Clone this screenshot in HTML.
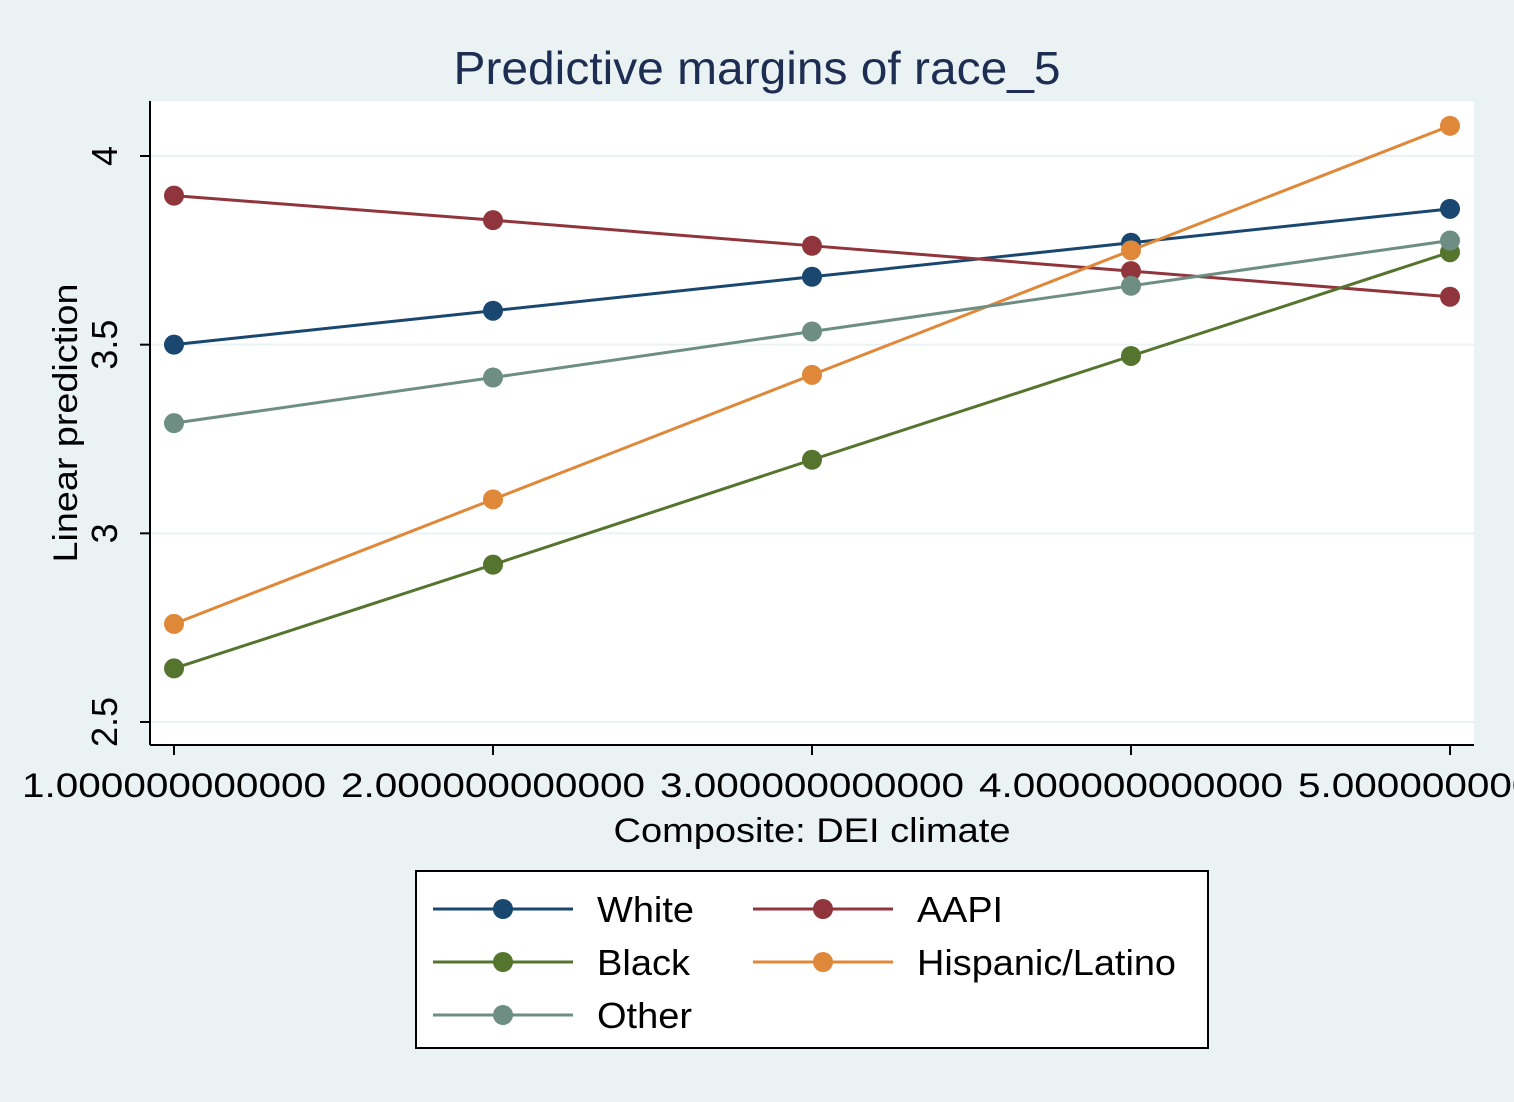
<!DOCTYPE html>
<html><head><meta charset="utf-8">
<style>
html,body{margin:0;padding:0;background:#eaf2f3;}
svg{display:block;font-family:"Liberation Sans",Arial,sans-serif;}
</style></head>
<body>
<svg id="chart" width="1514" height="1102" viewBox="0 0 1514 1102" xmlns="http://www.w3.org/2000/svg">
<rect x="0" y="0" width="1514" height="1102" fill="#eaf2f3"/>
<text x="757" y="84" text-anchor="middle" font-size="46" textLength="607" lengthAdjust="spacingAndGlyphs" fill="#1e2d52">Predictive margins of race_5</text>
<rect x="150" y="101" width="1324" height="644" fill="#ffffff"/>
<g id="grid"></g>
<g id="series"></g>
<line x1="150" y1="101" x2="150" y2="745" stroke="#000" stroke-width="2"/>
<line x1="150" y1="745" x2="1474" y2="745" stroke="#000" stroke-width="2"/>
<g id="axes"></g>
<text x="77" y="423" transform="rotate(-90 77 423)" text-anchor="middle" font-size="34" textLength="279" lengthAdjust="spacingAndGlyphs" fill="#000">Linear prediction</text>
<text x="812" y="842" text-anchor="middle" font-size="34" textLength="397" lengthAdjust="spacingAndGlyphs" fill="#000">Composite: DEI climate</text>
<g>
<rect x="416" y="871" width="792" height="177" fill="#fff" stroke="#000" stroke-width="2"/>
<g id="legend"></g>
</g>
</svg>
<script>
const xCats=[1,2,3,4,5];
const xTickLabels=["1.000000000000","2.000000000000","3.000000000000","4.000000000000","5.000000000000"];
const yTicks=[2.5,3,3.5,4];
const yTickLabels=["2.5","3","3.5","4"];
const seriesNames=["White","AAPI","Black","Hispanic/Latino","Other"];
const seriesColors=["#1a476f","#90353b","#55752f","#e0883a","#6e8e84"];
const white=[3.50,3.59,3.68,3.77,3.86];
const aapi=[3.895,3.83,3.762,3.695,3.627];
const black=[2.642,2.917,3.195,3.47,3.745];
const hispanic=[2.76,3.09,3.42,3.75,4.08];
const other=[3.292,3.413,3.535,3.656,3.776];
const seriesData=[white,aapi,black,hispanic,other];

const NS="http://www.w3.org/2000/svg";
const xs=v=>174+(v-1)*319;
const ys=v=>722-(v-2.5)*377.33;
function mk(tag,attrs,parent){const e=document.createElementNS(NS,tag);for(const k in attrs)e.setAttribute(k,attrs[k]);parent.appendChild(e);return e;}
const grid=document.getElementById('grid'),axes=document.getElementById('axes'),ser=document.getElementById('series'),leg=document.getElementById('legend');
const legTextLen={"White":97,"AAPI":86,"Black":93,"Hispanic/Latino":259,"Other":95};
yTicks.forEach((t,i)=>{
  const g=mk('line',{x1:150,x2:1474,y1:ys(t),y2:ys(t),stroke:'#eaf2f3','stroke-width':2},grid);
  
  
  const tk=mk('line',{x1:140,x2:150,y1:ys(t),y2:ys(t),stroke:'#000','stroke-width':2},axes);
  
  
  const tx=mk('text',{x:ys(t),y:117,'font-size':36,'text-anchor':'middle',transform:`rotate(-90 ${ys(t)} 117)`},axes);
  tx.setAttribute('x',0);tx.setAttribute('y',0);
  tx.setAttribute('transform',`translate(117 ${ys(t)}) rotate(-90)`);
  tx.textContent=yTickLabels[i];
  
  
});
xCats.forEach((c,i)=>{
  const tk=mk('line',{x1:xs(c),x2:xs(c),y1:745,y2:755,stroke:'#000','stroke-width':2},axes);
  
  
  const tx=mk('text',{x:xs(c),y:797,'font-size':34,'text-anchor':'middle',textLength:304,lengthAdjust:'spacingAndGlyphs'},axes);
  tx.textContent=xTickLabels[i];
  
  
});
seriesData.forEach((d,si)=>{
  const col=seriesColors[si];
  const pl=mk('polyline',{points:d.map((v,i)=>xs(xCats[i])+','+ys(v)).join(' '),fill:'none',stroke:col,'stroke-width':3},ser);
  
  
  d.forEach((v,i)=>{
    const c=mk('circle',{cx:xs(xCats[i]),cy:ys(v),r:10,fill:col},ser);
    
    
  });
});
const legPos=[[433,909],[753,909],[433,962],[753,962],[433,1015]];
seriesNames.forEach((n,i)=>{
  const [lx,ly]=legPos[i];const col=seriesColors[i];
  const l=mk('line',{x1:lx,x2:lx+140,y1:ly,y2:ly,stroke:col,'stroke-width':3},leg);
  
  
  const c=mk('circle',{cx:lx+70,cy:ly,r:10,fill:col},leg);
  
  
  const t=mk('text',{x:lx+164,y:ly+13,'font-size':36,textLength:legTextLen[n],lengthAdjust:'spacingAndGlyphs'},leg);
  t.textContent=n;
  
  
});
</script>
</body></html>
